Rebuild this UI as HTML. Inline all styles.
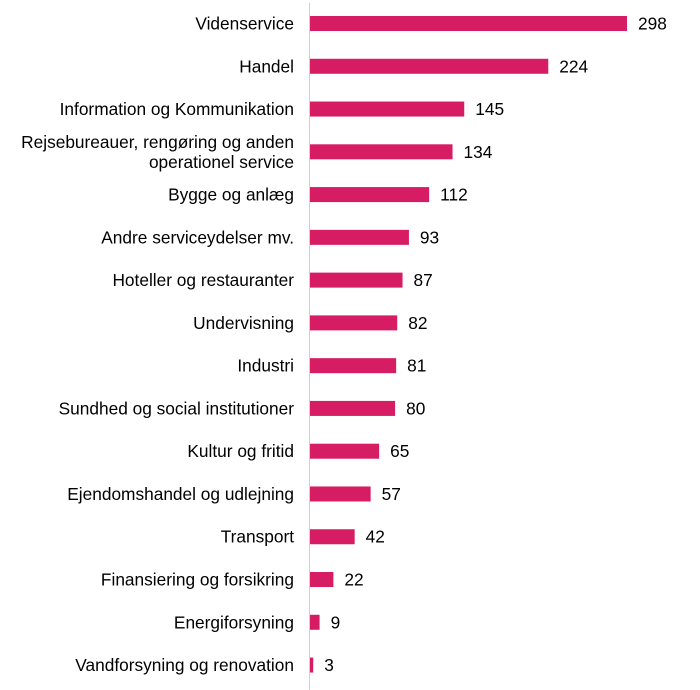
<!DOCTYPE html>
<html><head><meta charset="utf-8"><style>
html,body{margin:0;padding:0;background:#fff;width:700px;height:690px;overflow:hidden}
svg text{font-family:"Liberation Sans",Arial,sans-serif;font-size:17.3px;fill:#000}
</style></head><body>
<svg id="chart" width="700" height="690">
<line x1="309.5" y1="3" x2="309.5" y2="690" stroke="#d0d0d0" stroke-width="1"/>
</svg>
<script>
const categories=[["Videnservice"],["Handel"],["Information og Kommunikation"],["Rejsebureauer, rengøring og anden","operationel service"],["Bygge og anlæg"],["Andre serviceydelser mv."],["Hoteller og restauranter"],["Undervisning"],["Industri"],["Sundhed og social institutioner"],["Kultur og fritid"],["Ejendomshandel og udlejning"],["Transport"],["Finansiering og forsikring"],["Energiforsyning"],["Vandforsyning og renovation"]];
const values=[298,224,145,134,112,93,87,82,81,80,65,57,42,22,9,3];
const NS="http://www.w3.org/2000/svg";
const svg=document.getElementById('chart');
const x0=310, k=317/298;
function xScale(v){return x0+v*k;}
function yCenter(i){return 23.5+i*42.77;}
const bh=15;
categories.forEach((lines,i)=>{
  const cy=yCenter(i);
  const r=document.createElementNS(NS,'rect');
  r.setAttribute('x',x0);r.setAttribute('y',cy-bh/2);
  r.setAttribute('width',xScale(values[i])-x0);r.setAttribute('height',bh);
  r.setAttribute('fill','#D61D63');
  
  
  svg.appendChild(r);
  const v=document.createElementNS(NS,'text');
  v.setAttribute('x',xScale(values[i])+11);v.setAttribute('y',cy+6);
  v.textContent=values[i];
  
  
  svg.appendChild(v);
  const t=document.createElementNS(NS,'text');
  t.setAttribute('x',294);t.setAttribute('text-anchor','end');
  
  
  const n=lines.length;
  lines.forEach((ln,j)=>{
    const ts=document.createElementNS(NS,'tspan');
    ts.setAttribute('x',294);
    ts.setAttribute('y',cy+6+(j-(n-1)/2)*20);
    ts.textContent=ln;
    t.appendChild(ts);
  });
  svg.appendChild(t);
});
</script>
</body></html>
